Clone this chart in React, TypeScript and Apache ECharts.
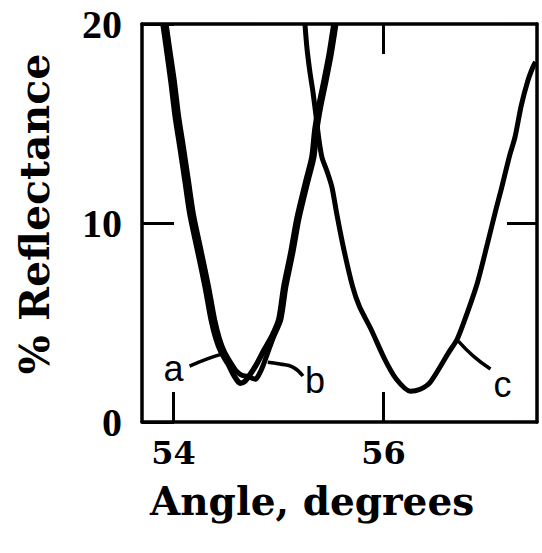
import React, { useEffect, useRef } from "react";
import * as echarts from "echarts";

// Axis ticks
const xBottomTicks = [54, 56];
const xTopTicks = [56];
const yTicks = [0, 10, 20];

// Curve a: angle (degrees), % reflectance
const curveA: [number, number][] = [
  [53.9, 20.0], [53.932, 18.8], [53.976, 17.1], [54.015, 15.4], [54.062, 13.8],
  [54.11, 12.1], [54.158, 10.4], [54.234, 8.5], [54.301, 6.8], [54.358, 5.16],
  [54.406, 4.16], [54.454, 3.5], [54.521, 2.9], [54.568, 2.4], [54.605, 2.1],
  [54.635, 1.95], [54.68, 2.05], [54.73, 2.4], [54.79, 2.9], [54.86, 3.6],
  [54.935, 4.3], [55.002, 5.16], [55.05, 6.8], [55.116, 8.5], [55.174, 10.2],
  [55.26, 12.1], [55.317, 13.3], [55.346, 14.7], [55.384, 15.9], [55.431, 17.1],
  [55.479, 18.4], [55.527, 20.0],
];

// Curve b
const curveB: [number, number][] = [
  [53.93, 20.0], [53.962, 18.8], [54.009, 17.1], [54.048, 15.4], [54.095, 13.8],
  [54.143, 12.1], [54.191, 10.4], [54.267, 8.5], [54.334, 6.8], [54.391, 5.16],
  [54.439, 4.16], [54.487, 3.5], [54.554, 2.9], [54.6, 2.55], [54.65, 2.35],
  [54.7, 2.3], [54.745, 2.2], [54.78, 2.15], [54.815, 2.4], [54.85, 2.8],
  [54.898, 3.5], [54.955, 4.3], [55.022, 5.16], [55.07, 6.8], [55.136, 8.5],
  [55.194, 10.2], [55.28, 12.1], [55.337, 13.3], [55.366, 14.7], [55.404, 15.9],
  [55.451, 17.1], [55.499, 18.4], [55.547, 20.0],
];

// Curve c
const curveC: [number, number][] = [
  [55.251, 20.0], [55.27, 18.8], [55.298, 17.6], [55.327, 16.6], [55.356, 15.4],
  [55.384, 14.2], [55.413, 13.3], [55.461, 12.6], [55.508, 11.8], [55.556, 10.4],
  [55.62, 8.7], [55.705, 6.8], [55.77, 5.8], [55.88, 4.66], [56.01, 3.16],
  [56.12, 2.16], [56.253, 1.55], [56.348, 1.65], [56.444, 2.0], [56.62, 3.5],
  [56.7, 4.16], [56.797, 5.5], [56.893, 7.0], [56.99, 9.0], [57.07, 10.7],
  [57.115, 11.6], [57.2, 13.4], [57.25, 14.3], [57.31, 15.9], [57.37, 17.1],
  [57.418, 17.8], [57.446, 18.1],
];

// Leader lines from the labels to the curves
const leaderA: [number, number][] = [[54.153, 2.81], [54.315, 3.16], [54.458, 3.41]];
const leaderB: [number, number][] = [[54.897, 3.0], [55.012, 2.91], [55.136, 2.76], [55.232, 2.31]];
const leaderC: [number, number][] = [[56.711, 4.06], [56.854, 3.31], [57.017, 2.66]];

// Curve labels
const curveLabelNames = ["a", "b", "c"];
const curveLabelPos: [number, number][] = [[54.0, 2.7], [55.346, 2.1], [57.131, 1.9]];

const SERIF = "'DejaVu Serif', serif";
const TIMES = "'Liberation Serif', 'Times New Roman', serif";

export default function App() {
  const ref = useRef<HTMLDivElement>(null);
  useEffect(() => {
    if (!ref.current) return;
    const chart = echarts.init(ref.current, undefined, { renderer: "svg" });
    const lineStyleBase = { color: "#000", width: 3.5 };
    const mkCurve = (name: string, data: [number, number][], width: number) => ({
      type: "line",
      name,
      data,
      smooth: 0.25,
      showSymbol: false,
      symbol: "none",
      lineStyle: { color: "#000", width },
      itemStyle: { color: "#000" },
      silent: true,
      z: 3,
    });
    const mkLeader = (name: string, data: [number, number][]) => ({
      type: "line",
      name,
      data,
      smooth: 0.5,
      showSymbol: false,
      symbol: "none",
      lineStyle: { color: "#000", width: 3.5 },
      itemStyle: { color: "#000" },
      silent: true,
      z: 3,
    });
    chart.setOption({
      animation: false,
      backgroundColor: "#fff",
      grid: { left: 142, right: 5, top: 24, bottom: 131, containLabel: false },
      xAxis: [
        {
          type: "value",
          position: "bottom",
          min: 53.7,
          max: 57.46,
          axisLine: { show: true, onZero: false, lineStyle: lineStyleBase },
          axisTick: { show: true, inside: true, length: 30, customValues: xBottomTicks, lineStyle: { color: "#000", width: 3 } },
          axisLabel: {
            show: true,
            customValues: xBottomTicks,
            margin: 15,
            color: "#000",
            fontFamily: SERIF,
            fontWeight: "bold",
            fontSize: 32,
          },
          splitLine: { show: false },
        },
        {
          type: "value",
          position: "top",
          min: 53.7,
          max: 57.46,
          axisLine: { show: true, onZero: false, lineStyle: lineStyleBase },
          axisTick: { show: true, inside: true, length: 30, customValues: xTopTicks, lineStyle: { color: "#000", width: 3 } },
          axisLabel: { show: false },
          splitLine: { show: false },
        },
      ],
      yAxis: [
        {
          type: "value",
          position: "left",
          min: 0,
          max: 20,
          interval: 10,
          axisLine: { show: true, onZero: false, lineStyle: lineStyleBase },
          axisTick: { show: true, inside: true, length: 32, customValues: yTicks, lineStyle: { color: "#000", width: 3 } },
          axisLabel: {
            show: true,
            margin: 20,
            color: "#000",
            fontFamily: TIMES,
            fontWeight: "bold",
            fontSize: 40,
          },
          splitLine: { show: false },
        },
        {
          type: "value",
          position: "right",
          min: 0,
          max: 20,
          interval: 10,
          axisLine: { show: true, onZero: false, lineStyle: lineStyleBase },
          axisTick: { show: true, inside: true, length: 30, customValues: [10], lineStyle: { color: "#000", width: 3 } },
          axisLabel: { show: false },
          splitLine: { show: false },
        },
      ],
      graphic: [
        {
          type: "text",
          left: 150,
          top: 481,
          style: {
            text: "Angle, degrees",
            fill: "#000",
            font: `bold 39px ${SERIF}`,
          },
        },
        {
          type: "text",
          x: 35,
          y: 214,
          rotation: Math.PI / 2,
          style: {
            text: "% Reflectance",
            fill: "#000",
            font: `bold 41px ${SERIF}`,
            align: "center",
            verticalAlign: "middle",
          },
        },
      ],
      series: [
        mkCurve("a", curveA, 5.5),
        mkCurve("b", curveB, 5),
        mkCurve("c", curveC, 5),
        mkLeader("leader a", leaderA),
        mkLeader("leader b", leaderB),
        mkLeader("leader c", leaderC),
        {
          type: "scatter",
          name: "labels",
          symbolSize: 0,
          silent: true,
          itemStyle: { color: "#000", opacity: 1 },
          data: curveLabelNames.map((n, i) => ({ name: n, value: curveLabelPos[i] })),
          label: {
            show: true,
            position: "inside",
            formatter: "{b}",
            color: "#000",
            opacity: 1,
            textBorderWidth: 0,
            fontFamily: "'Liberation Sans', Arial, sans-serif",
            fontSize: 36,
          },
          z: 4,
        },
      ],
    });
    return () => chart.dispose();
  }, []);
  return (
    <div
      ref={ref}
      style={{ position: "absolute", left: 0, top: 0, width: 542, height: 553 }}
    />
  );
}
